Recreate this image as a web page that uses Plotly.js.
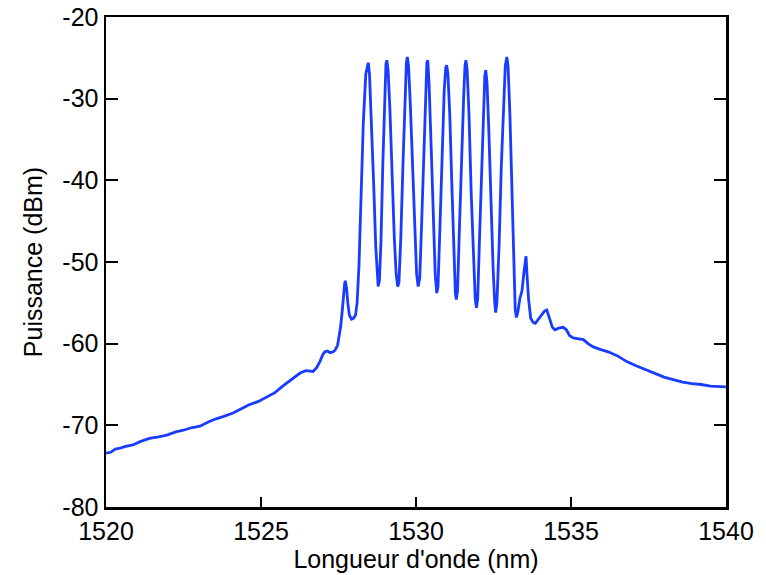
<!DOCTYPE html>
<html>
<head>
<meta charset="utf-8">
<script src="https://cdn.plot.ly/plotly-3.0.1.min.js"></script>
<style>html,body{margin:0;padding:0;background:#fff;}#chart{width:766px;height:575px;}</style>
</head>
<body>
<div id="chart"></div>
<script>
// Wavelength (nm) and power (dBm)
const wavelength = [
1520.00,1520.15,1520.30,1520.45,1520.60,1520.87,1521.10,1521.40,1521.70,1521.96,
1522.25,1522.50,1522.75,1523.03,1523.30,1523.55,1523.80,1524.10,1524.35,1524.60,
1524.90,1525.18,1525.45,1525.70,1525.95,1526.26,1526.45,1526.68,1526.80,1526.90,
1527.00,1527.06,1527.15,1527.23,1527.33,1527.39,1527.47,1527.52,1527.57,1527.62,
1527.66,1527.70,1527.72,1527.76,1527.80,1527.85,1527.92,1527.98,1528.05,1528.10,
1528.16,1528.22,1528.30,1528.38,1528.43,1528.46,1528.50,1528.56,1528.64,1528.70,
1528.74,1528.78,1528.82,1528.87,1528.93,1528.99,1529.03,1529.06,1529.10,1529.16,
1529.23,1529.30,1529.36,1529.41,1529.45,1529.51,1529.58,1529.64,1529.69,1529.72,
1529.76,1529.82,1529.89,1529.96,1530.02,1530.07,1530.12,1530.18,1530.25,1530.31,
1530.35,1530.38,1530.42,1530.49,1530.56,1530.62,1530.67,1530.71,1530.77,1530.84,
1530.91,1530.96,1530.99,1531.03,1531.09,1531.16,1531.22,1531.27,1531.30,1531.34,
1531.40,1531.47,1531.54,1531.58,1531.61,1531.65,1531.71,1531.78,1531.85,1531.91,
1531.95,1531.99,1532.05,1532.12,1532.18,1532.22,1532.25,1532.29,1532.35,1532.42,
1532.49,1532.54,1532.57,1532.61,1532.68,1532.75,1532.82,1532.88,1532.93,1532.97,
1533.03,1533.10,1533.16,1533.20,1533.24,1533.29,1533.35,1533.42,1533.49,1533.55,
1533.58,1533.63,1533.70,1533.78,1533.85,1533.95,1534.05,1534.15,1534.22,1534.30,
1534.40,1534.48,1534.60,1534.75,1534.85,1534.95,1535.07,1535.25,1535.40,1535.55,
1535.72,1535.94,1536.20,1536.50,1536.80,1537.10,1537.40,1537.70,1538.00,1538.30,
1538.60,1538.90,1539.20,1539.50,1539.80,1540.00
];
const power = [
-73.4,-73.3,-72.9,-72.8,-72.6,-72.4,-72.0,-71.6,-71.4,-71.2,
-70.8,-70.6,-70.3,-70.1,-69.6,-69.2,-68.9,-68.5,-68.0,-67.5,
-67.1,-66.5,-66.0,-65.2,-64.5,-63.6,-63.3,-63.4,-62.9,-62.2,
-61.3,-61.0,-60.9,-61.1,-61.0,-60.8,-60.2,-59.2,-57.9,-56.0,
-54.0,-52.6,-52.3,-53.2,-55.0,-56.5,-57.0,-56.9,-56.5,-55.0,
-50.5,-43.0,-33.0,-27.0,-25.8,-25.6,-27.0,-32.5,-41.0,-48.0,
-51.5,-53.0,-52.3,-47.5,-38.0,-29.0,-25.8,-25.3,-26.5,-31.5,
-39.5,-47.0,-51.5,-53.0,-52.5,-47.0,-38.0,-29.5,-25.6,-24.9,
-26.0,-31.0,-39.0,-46.5,-51.5,-53.0,-52.0,-45.5,-36.0,-28.5,
-25.6,-25.3,-28.0,-36.0,-45.0,-51.5,-53.8,-53.0,-46.0,-36.5,
-29.0,-26.2,-25.9,-27.0,-32.0,-41.0,-49.5,-53.8,-54.6,-53.5,
-46.0,-37.0,-29.5,-26.0,-25.3,-26.5,-32.0,-41.5,-50.0,-54.5,
-55.6,-54.5,-47.0,-38.0,-31.0,-27.2,-26.5,-28.0,-34.0,-43.0,
-51.0,-55.0,-56.2,-55.0,-48.0,-38.5,-30.5,-26.0,-24.9,-26.0,
-32.0,-42.5,-51.5,-55.8,-56.8,-56.0,-54.5,-53.5,-51.0,-49.3,
-51.5,-54.5,-56.9,-57.4,-57.5,-57.0,-56.5,-56.0,-55.9,-56.8,
-58.0,-58.3,-58.1,-58.0,-58.3,-59.0,-59.3,-59.4,-59.5,-60.0,
-60.4,-60.7,-61.0,-61.5,-62.2,-62.7,-63.2,-63.7,-64.1,-64.4,
-64.7,-64.9,-65.0,-65.2,-65.3,-65.3
];
const xTicks = [1520, 1525, 1530, 1535, 1540];
const yTicks = [-80, -70, -60, -50, -40, -30, -20];

const font = {family: '"Liberation Sans", Arial, sans-serif', size: 25, color: '#000'};

Plotly.newPlot('chart', [{
  x: wavelength, y: power, type: 'scatter', mode: 'lines',
  line: {color: 'rgb(25,60,255)', width: 2.8, shape: 'linear'},
  hoverinfo: 'none'
}], {
  width: 766, height: 575,
  margin: {l: 106, r: 40, t: 17, b: 68},
  paper_bgcolor: '#fff', plot_bgcolor: '#fff',
  showlegend: false,
  font: font,
  xaxis: {
    range: [1520, 1540], tickvals: xTicks, ticktext: xTicks.map(String),
    ticks: 'inside', ticklen: 10, tickwidth: 2, tickcolor: '#000',
    showline: true, linecolor: '#000', linewidth: 2.5, mirror: true,
    showgrid: false, zeroline: false,
    tickfont: font,
    title: {text: "Longueur d'onde (nm)", font: font, standoff: 0}
  },
  yaxis: {
    range: [-80, -20], tickvals: yTicks, ticktext: yTicks.map(String),
    ticks: 'inside', ticklen: 12, tickwidth: 2, tickcolor: '#000',
    showline: true, linecolor: '#000', linewidth: 2.5, mirror: 'ticks',
    showgrid: false, zeroline: false,
    tickfont: font,
    title: {text: 'Puissance (dBm)', font: font, standoff: 13}
  }
}, {staticPlot: true, displayModeBar: false});
</script>
</body>
</html>
